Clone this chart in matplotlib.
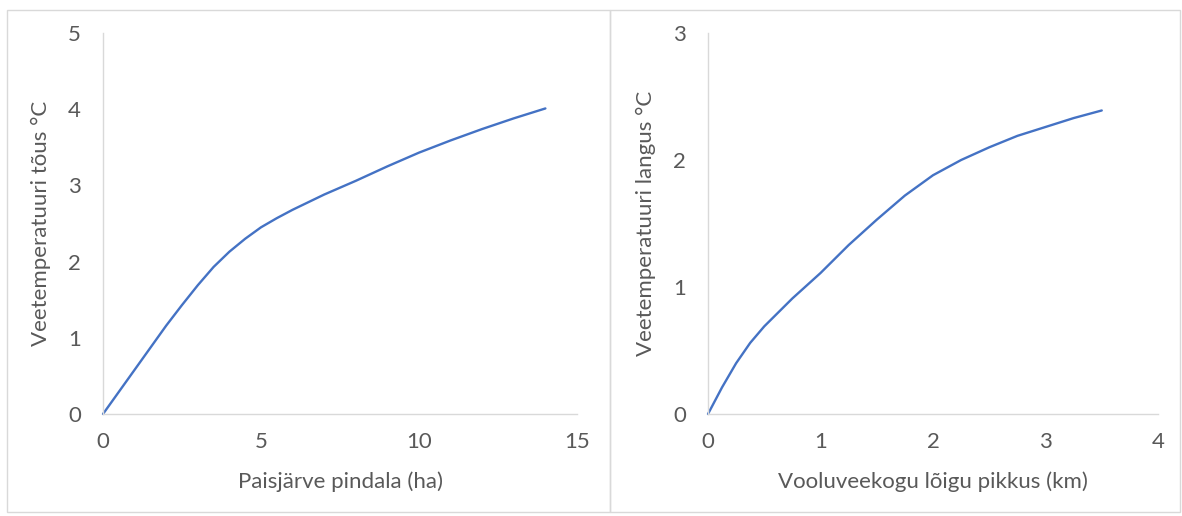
import matplotlib
matplotlib.use("Agg")
import matplotlib.pyplot as plt
from matplotlib.patches import Rectangle

# Left panel data
area_ha = [0, 0.5, 1, 1.5, 2, 2.5, 3, 3.5, 4, 4.5, 5, 5.5, 6, 7, 8, 9, 10, 11, 12, 13, 14]
temp_rise = [0, 0.29, 0.58, 0.87, 1.16, 1.43, 1.69, 1.93, 2.13, 2.30, 2.45, 2.57, 2.68,
             2.88, 3.06, 3.25, 3.43, 3.59, 3.74, 3.88, 4.01]
left_xticks = [0, 5, 10, 15]
left_yticks = [0, 1, 2, 3, 4, 5]

# Right panel data
length_km = [0, 0.125, 0.25, 0.375, 0.5, 0.75, 1, 1.25, 1.5, 1.75, 2, 2.25, 2.5, 2.75,
             3, 3.25, 3.5]
temp_drop = [0, 0.21, 0.40, 0.56, 0.69, 0.91, 1.11, 1.33, 1.53, 1.72, 1.88, 2.0, 2.1,
             2.19, 2.26, 2.33, 2.39]
right_xticks = [0, 1, 2, 3, 4]
right_yticks = [0, 1, 2, 3]

W, H = 1182, 516
fig = plt.figure(figsize=(W / 100, H / 100), dpi=100)
plt.rcParams['font.family'] = ['Lato', 'DejaVu Sans']

grey_txt = '#595959'
axis_col = '#d9d9d9'
line_col = '#4472C4'
FS = 16

# panel borders
for (x0, x1) in [(7, 610), (610, 1180)]:
    fig.patches.append(Rectangle((x0 / W, 1 - 512 / H), (x1 - x0) / W, (512 - 10) / H,
                                 transform=fig.transFigure, fill=False,
                                 edgecolor='#d9d9d9', linewidth=1.0))


def make_ax(px_left, px_right, xs, ys, xt, yt, xlabel, ylabel):
    ax = fig.add_axes([px_left / W, 1 - 414 / H, (px_right - px_left) / W, (414 - 33) / H])
    ax.plot(xs, ys, color=line_col, linewidth=1.7, solid_capstyle='round',
            solid_joinstyle='round')
    ax.set_xlim(xt[0], xt[-1])
    ax.set_ylim(yt[0], yt[-1])
    ax.set_xticks(xt)
    ax.set_yticks(yt)
    for s in ['top', 'right']:
        ax.spines[s].set_visible(False)
    for s in ['left', 'bottom']:
        ax.spines[s].set_color(axis_col)
        ax.spines[s].set_linewidth(1.0)
    ax.tick_params(axis='both', length=0, labelsize=FS, colors=grey_txt)
    ax.tick_params(axis='y', pad=16)
    ax.tick_params(axis='x', pad=13)
    ax.set_xlabel(xlabel, fontsize=FS, color=grey_txt, labelpad=14)
    ax.set_ylabel(ylabel, fontsize=FS, color=grey_txt, labelpad=12)
    ax.patch.set_alpha(0)
    return ax


ax1 = make_ax(103, 577, area_ha, temp_rise, left_xticks, left_yticks,
              'Paisjärve pindala (ha)', 'Veetemperatuuri tõus °C')
ax2 = make_ax(708, 1158, length_km, temp_drop, right_xticks, right_yticks,
              'Vooluveekogu lõigu pikkus (km)', 'Veetemperatuuri langus °C')
for ax in (ax1, ax2):
    for ln in ax.lines:
        ln.set_clip_on(False)

fig.savefig('out.png', dpi=100, facecolor='white')
